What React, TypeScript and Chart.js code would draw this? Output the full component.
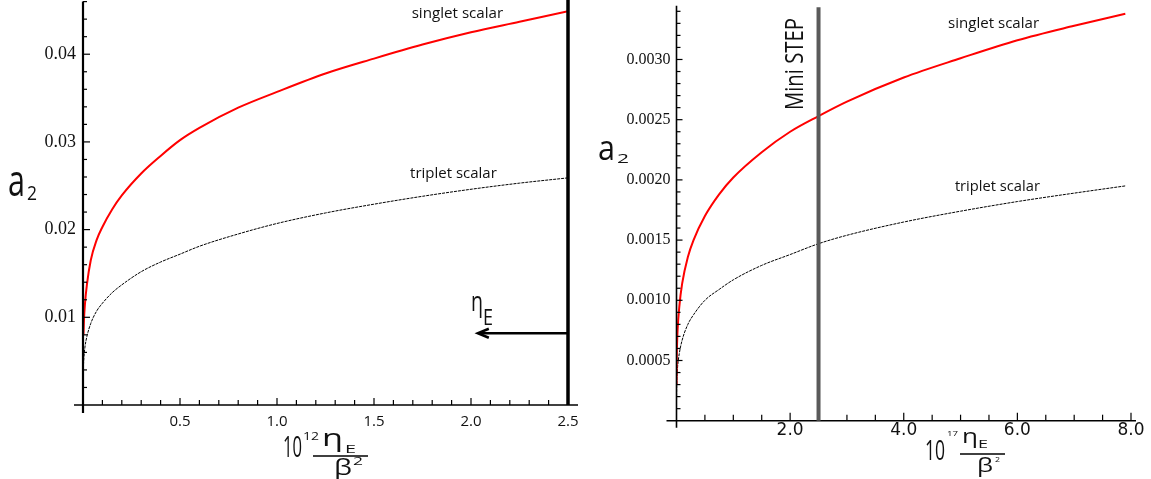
import React, { useEffect, useRef } from "react";
import { Chart, registerables } from "chart.js";

Chart.register(...registerables);

// ---------- Left panel data (x in units of 10^12 eta_E / beta^2) ----------
const leftEta = [0.0025, 0.005, 0.01, 0.02, 0.04, 0.07, 0.1, 0.15, 0.2, 0.3, 0.4, 0.5, 0.6, 0.8, 1.0, 1.25, 1.5, 1.75, 2.0, 2.25, 2.5];
const leftSinglet = [0.008, 0.0097, 0.0115, 0.0137, 0.0165, 0.0188, 0.0203, 0.0223, 0.0239, 0.0264, 0.0284, 0.0302, 0.0316, 0.0339, 0.0357, 0.0378, 0.0395, 0.0411, 0.0425, 0.0437, 0.0449];
const leftTriplet = [0.0046, 0.0055, 0.0066, 0.0078, 0.0093, 0.0107, 0.0116, 0.0128, 0.0137, 0.0152, 0.0163, 0.0172, 0.0181, 0.0195, 0.0207, 0.0219, 0.0229, 0.0238, 0.0246, 0.0253, 0.0259];
const leftXTicks = [0.5, 1.0, 1.5, 2.0, 2.5];
const leftYTicks = [0.01, 0.02, 0.03, 0.04];

// ---------- Right panel data (x in units of 10^17 eta_E / beta^2) ----------
const rightEta = [0.0005, 0.005, 0.01, 0.02, 0.05, 0.1, 0.2, 0.3, 0.5, 0.75, 1.0, 1.5, 2.0, 2.5, 3.0, 4.0, 5.0, 6.0, 7.0, 7.9];
const rightSinglet = [0.0003, 0.00054, 0.00064, 0.00076, 0.00095, 0.00114, 0.00136, 0.0015, 0.0017, 0.00188, 0.00202, 0.00223, 0.0024, 0.00253, 0.00265, 0.00285, 0.00301, 0.00316, 0.00328, 0.00338];
const rightTriplet = [0.00017, 0.00032, 0.00038, 0.00045, 0.00056, 0.00067, 0.0008, 0.00088, 0.001, 0.00109, 0.00117, 0.00129, 0.00138, 0.00147, 0.00154, 0.00165, 0.00174, 0.00182, 0.00189, 0.00195];
const rightXTicks = [2.0, 4.0, 6.0, 8.0];
const rightYTicks = [0.0005, 0.001, 0.0015, 0.002, 0.0025, 0.003];

const singletText = "singlet scalar";
const tripletText = "triplet scalar";
const cutoffEta = 2.5;
const arrowTipEta = 2.03;
const arrowLevel = 0.00818;
const miniStepEta = 2.5;
const miniStepText = "Mini STEP";

const SANS = "'Open Sans', 'DejaVu Sans', sans-serif";
const SERIF = '"Liberation Serif", "Times New Roman", "DejaVu Serif", serif';

type TextPiece = { t: string; x: number; y: number; size: number; w: number };

function fitText(ctx: CanvasRenderingContext2D, p: TextPiece, rotate = false) {
  ctx.save();
  ctx.font = `${p.size}px ${SANS}`;
  ctx.fillStyle = "#111";
  ctx.textAlign = "left";
  ctx.textBaseline = "alphabetic";
  const m = ctx.measureText(p.t).width;
  ctx.translate(p.x, p.y);
  if (rotate) ctx.rotate(-Math.PI / 2);
  ctx.scale(p.w / m, 1);
  ctx.fillText(p.t, 0, 0);
  ctx.restore();
}

function seg(ctx: CanvasRenderingContext2D, x1: number, y1: number, x2: number, y2: number, w: number, color = "#000") {
  ctx.beginPath();
  ctx.strokeStyle = color;
  ctx.lineWidth = w;
  ctx.moveTo(x1, y1);
  ctx.lineTo(x2, y2);
  ctx.stroke();
}

type Minor = { step: number; count: number; every: number; major: number; minor: number };

type PanelCfg = {
  canvasLeft: number;
  width: number;
  height: number;
  yAxisWidth: number;
  xAxisHeight: number;
  padTop: number;
  padRight: number;
  xMax: number;
  yMax: number;
  xTicks: number[];
  yTicks: number[];
  xDigits: number;
  yDigits: number;
  xFont: { family: string; size: number };
  yFont: { family: string; size: number };
  xPad: number;
  yPad: number;
  eta: number[];
  singlet: number[];
  triplet: number[];
  xMinor: Minor;
  yMinor: Minor;
  axisExt: { left: number; right: number; below: number; top: number; yw: number; xw: number };
  draw: (ctx: CanvasRenderingContext2D, xs: any, ys: any, area: any) => void;
};

function drawAxes(ctx: CanvasRenderingContext2D, cfg: PanelCfg, xs: any, ys: any, area: any) {
  const e = cfg.axisExt;
  seg(ctx, area.left - e.left, area.bottom, area.right + e.right, area.bottom, e.xw);
  seg(ctx, area.left, area.top + e.top, area.left, area.bottom + e.below, e.yw);
  for (let i = 1; i <= cfg.xMinor.count; i++) {
    const px = xs.getPixelForValue(i * cfg.xMinor.step);
    const len = i % cfg.xMinor.every === 0 ? cfg.xMinor.major : cfg.xMinor.minor;
    seg(ctx, px, area.bottom, px, area.bottom - len, 1.2);
  }
  for (let i = 1; i <= cfg.yMinor.count; i++) {
    const py = ys.getPixelForValue(i * cfg.yMinor.step);
    const len = i % cfg.yMinor.every === 0 ? cfg.yMinor.major : cfg.yMinor.minor;
    seg(ctx, area.left, py, area.left + len, py, 1.2);
  }
}

const leftTitle: TextPiece[] = [
  { t: "10", x: 283, y: 457, size: 30, w: 19 },
  { t: "12", x: 303, y: 440, size: 10, w: 16 },
  { t: "η", x: 322, y: 446, size: 24, w: 21 },
  { t: "E", x: 345, y: 453, size: 11, w: 11 },
  { t: "β", x: 334, y: 475, size: 22, w: 18 },
  { t: "2", x: 353, y: 465, size: 10, w: 10 },
];
const leftA: TextPiece[] = [
  { t: "a", x: 8, y: 196, size: 44, w: 17 },
  { t: "2", x: 27, y: 200, size: 20, w: 10 },
];
const leftEtaE: TextPiece[] = [
  { t: "η", x: 471, y: 311, size: 28, w: 12 },
  { t: "E", x: 483, y: 325, size: 21, w: 10 },
];
const rightTitle: TextPiece[] = [
  { t: "10", x: 925, y: 460, size: 28, w: 20 },
  { t: "17", x: 947, y: 436, size: 8, w: 11 },
  { t: "η", x: 962, y: 443, size: 20, w: 16 },
  { t: "E", x: 978, y: 448, size: 11, w: 10 },
  { t: "β", x: 977, y: 472, size: 20, w: 16 },
  { t: "2", x: 995, y: 462, size: 7, w: 5 },
];
const rightA: TextPiece[] = [
  { t: "a", x: 598, y: 160, size: 34, w: 17 },
  { t: "2", x: 617, y: 163, size: 13, w: 12 },
];

const leftCfg: PanelCfg = {
  canvasLeft: 0,
  width: 590,
  height: 479,
  yAxisWidth: 83,
  xAxisHeight: 74,
  padTop: 1.6,
  padRight: 22,
  xMax: 2.5,
  yMax: 0.046,
  xTicks: leftXTicks,
  yTicks: leftYTicks,
  xDigits: 1,
  yDigits: 2,
  xFont: { family: SANS, size: 15 },
  yFont: { family: SERIF, size: 18 },
  xPad: 8,
  yPad: 7,
  eta: leftEta,
  singlet: leftSinglet,
  triplet: leftTriplet,
  xMinor: { step: 0.1, count: 25, every: 5, major: 7, minor: 5 },
  yMinor: { step: 0.002, count: 23, every: 5, major: 7, minor: 4 },
  axisExt: { left: 9, right: 10, below: 8, top: 0, yw: 2.2, xw: 1.5 },
  draw: (ctx, xs, ys, area) => {
    const xc = xs.getPixelForValue(cutoffEta);
    seg(ctx, xc, 0, xc, area.bottom, 3.5);
    const yA = ys.getPixelForValue(arrowLevel);
    const tip = xs.getPixelForValue(arrowTipEta);
    seg(ctx, xc, yA, tip + 2, yA, 2.5);
    ctx.beginPath();
    ctx.strokeStyle = "#000";
    ctx.lineWidth = 2.5;
    ctx.moveTo(tip + 12, yA - 4.5);
    ctx.lineTo(tip + 1, yA);
    ctx.lineTo(tip + 12, yA + 4.5);
    ctx.stroke();
    leftEtaE.forEach((p) => fitText(ctx, p));
    fitText(ctx, { t: singletText, x: xs.getPixelForValue(1.694), y: ys.getPixelForValue(0.04413), size: 15, w: 91.6 });
    fitText(ctx, { t: tripletText, x: xs.getPixelForValue(1.686), y: ys.getPixelForValue(0.02587), size: 15, w: 86.7 });
    leftA.forEach((p) => fitText(ctx, p));
    leftTitle.forEach((p) => fitText(ctx, p));
    seg(ctx, 313, 456, 368, 456, 1.5);
  },
};

const rightCfg: PanelCfg = {
  canvasLeft: 590,
  width: 561,
  height: 479,
  yAxisWidth: 86.5,
  xAxisHeight: 58.3,
  padTop: 5.3,
  padRight: 20,
  xMax: 8.0,
  yMax: 0.00345,
  xTicks: rightXTicks,
  yTicks: rightYTicks,
  xDigits: 1,
  yDigits: 4,
  xFont: { family: '"DejaVu Sans", sans-serif', size: 17 },
  yFont: { family: SERIF, size: 16 },
  xPad: 0,
  yPad: 6,
  eta: rightEta,
  singlet: rightSinglet,
  triplet: rightTriplet,
  xMinor: { step: 0.5, count: 16, every: 4, major: 8, minor: 6 },
  yMinor: { step: 0.0001, count: 34, every: 5, major: 6, minor: 4 },
  axisExt: { left: 10, right: 5, below: 7, top: 0.5, yw: 1.6, xw: 1.5 },
  draw: (ctx, xs, ys, area) => {
    const xm = xs.getPixelForValue(miniStepEta);
    seg(ctx, xm, area.top + 2, xm, area.bottom, 4, "#5a5a5a");
    fitText(ctx, { t: miniStepText, x: xm - 15.5, y: 110, size: 25, w: 92 }, true);
    fitText(ctx, { t: singletText, x: xs.getPixelForValue(4.78), y: ys.getPixelForValue(0.003261), size: 15, w: 91 });
    fitText(ctx, { t: tripletText, x: xs.getPixelForValue(4.9), y: ys.getPixelForValue(0.001905), size: 15, w: 85 });
    ctx.save();
    ctx.translate(-590, 0);
    rightA.forEach((p) => fitText(ctx, p));
    rightTitle.forEach((p) => fitText(ctx, p));
    seg(ctx, 960, 454, 1005, 454, 1.5);
    ctx.restore();
  },
};

function makeChart(canvas: HTMLCanvasElement, cfg: PanelCfg) {
  const decor = {
    id: "decor",
    afterDraw(chart: any) {
      const ctx = chart.ctx as CanvasRenderingContext2D;
      const xs = chart.scales.x;
      const ys = chart.scales.y;
      ctx.save();
      drawAxes(ctx, cfg, xs, ys, chart.chartArea);
      cfg.draw(ctx, xs, ys, chart.chartArea);
      ctx.restore();
    },
  };
  return new Chart(canvas, {
    type: "scatter",
    data: {
      datasets: [
        {
          label: "singlet scalar",
          data: cfg.eta.map((x, i) => ({ x, y: cfg.singlet[i] })),
          showLine: true,
          borderColor: "#ff0000",
          backgroundColor: "#ff0000",
          borderWidth: 2,
          pointRadius: 0,
          cubicInterpolationMode: "monotone",
          fill: false,
        },
        {
          label: "triplet scalar",
          data: cfg.eta.map((x, i) => ({ x, y: cfg.triplet[i] })),
          showLine: true,
          borderColor: "#000000",
          backgroundColor: "#000000",
          borderWidth: 1,
          borderDash: [3, 1],
          pointRadius: 0,
          cubicInterpolationMode: "monotone",
          fill: false,
        },
      ],
    },
    options: {
      responsive: false,
      animation: false,
      devicePixelRatio: 1,
      events: [],
      layout: { padding: { top: cfg.padTop, right: cfg.padRight, left: 0, bottom: 0 } },
      plugins: { legend: { display: false }, tooltip: { enabled: false } },
      scales: {
        x: {
          type: "linear",
          min: 0,
          max: cfg.xMax,
          grid: { display: false, drawTicks: false, tickLength: 0 },
          border: { display: false },
          afterBuildTicks: (s: any) => {
            s.ticks = cfg.xTicks.map((v) => ({ value: v }));
          },
          afterFit: (s: any) => {
            s.height = cfg.xAxisHeight;
            s.paddingLeft = 0;
            s.paddingRight = 0;
          },
          ticks: {
            autoSkip: false,
            maxRotation: 0,
            padding: cfg.xPad,
            color: "#111",
            font: cfg.xFont,
            callback: (v: any) => Number(v).toFixed(cfg.xDigits),
          },
        },
        y: {
          type: "linear",
          min: 0,
          max: cfg.yMax,
          grid: { display: false, drawTicks: false, tickLength: 0 },
          border: { display: false },
          afterBuildTicks: (s: any) => {
            s.ticks = cfg.yTicks.map((v) => ({ value: v }));
          },
          afterFit: (s: any) => {
            s.width = cfg.yAxisWidth;
            s.paddingTop = 0;
            s.paddingBottom = 0;
          },
          ticks: {
            autoSkip: false,
            padding: cfg.yPad,
            color: "#111",
            font: cfg.yFont,
            callback: (v: any) => Number(v).toFixed(cfg.yDigits),
          },
        },
      },
    } as any,
    plugins: [decor],
  });
}

function Panel({ cfg }: { cfg: PanelCfg }) {
  const ref = useRef<HTMLCanvasElement | null>(null);
  useEffect(() => {
    if (!ref.current) return;
    const chart = makeChart(ref.current, cfg);
    let alive = true;
    const fonts: any = (document as any).fonts;
    if (fonts && fonts.load) {
      Promise.all([
        fonts.load('17px "Liberation Serif"'),
        fonts.load('17px "DejaVu Sans"'),
        fonts.load('15px "Open Sans"'),
      ])
        .catch(() => null)
        .then(() => {
          if (alive) chart.update();
        });
    }
    return () => {
      alive = false;
      chart.destroy();
    };
  }, [cfg]);
  return (
    <canvas
      ref={ref}
      width={cfg.width}
      height={cfg.height}
      style={{ position: "absolute", left: cfg.canvasLeft, top: 0, width: cfg.width, height: cfg.height }}
    />
  );
}

export default function App() {
  return (
    <div style={{ position: "fixed", left: 0, top: 0, width: 1151, height: 479, background: "#fff", overflow: "hidden" }}>
      <Panel cfg={leftCfg} />
      <Panel cfg={rightCfg} />
    </div>
  );
}
